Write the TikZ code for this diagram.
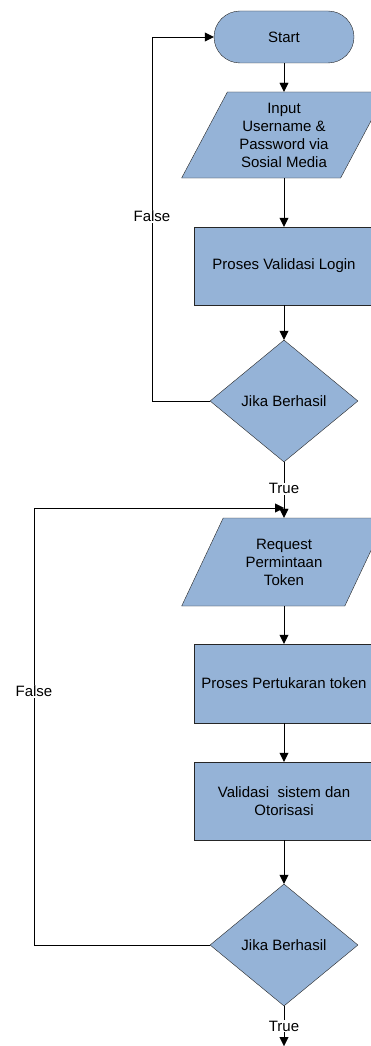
\documentclass[tikz,border=0pt]{standalone}
\usepackage{fontspec}
\setmainfont{Liberation Sans}
\usetikzlibrary{positioning}
\usetikzlibrary{shapes.geometric}
\usetikzlibrary{arrows.meta}
\definecolor{boxblue}{HTML}{95B3D7}
\tikzset{
  base/.style={draw=black!85, fill=boxblue, align=center, inner sep=1pt,
    font=\fontsize{15}{18}\selectfont},
  terminal/.style={base, rounded corners=26pt, minimum width=140pt, minimum height=52pt},
  inputbox/.style={base, trapezium, trapezium left angle=61, trapezium right angle=119,
    trapezium stretches=true, minimum width=205pt},
  procbox/.style={base, minimum width=180pt, minimum height=78pt},
  decision/.style={base, diamond, aspect=1.21, minimum width=148pt, minimum height=122pt},
  flow/.style={draw=black, -{Triangle[length=9pt,width=9pt]}},
  lbl/.style={fill=white, inner sep=1pt, font=\fontsize{15}{18}\selectfont}
}
\begin{document}
\begin{tikzpicture}[x=1pt, y=1pt]
  \useasboundingbox (0,0) rectangle (371,-1046);
  \node [terminal] (start) at (284,-37) {Start};
  \node [inputbox, minimum height=86pt] (input) at (284,-135)
    {Input\\Username \&\\Password via\\Sosial Media};
  \node [procbox] (login) at (284,-266) {Proses Validasi Login};
  \node [decision] (cek1) at (284,-401) {Jika Berhasil};
  \node [inputbox, minimum height=88pt] (request) at (284,-562)
    {Request\\Permintaan\\Token};
  \node [procbox, minimum height=79pt] (tukar) at (284,-683.5) {Proses Pertukaran token};
  \node [procbox] (otor) at (284,-801) {Validasi\ \ sistem dan\\Otorisasi};
  \node [decision] (cek2) at (284,-945) {Jika Berhasil};
  \coordinate (masuk) at (284,-508);
  \coordinate (akhir) at (284,-1046);

  \draw [flow] (start.south) -- (start.south |- input.north);
  \draw [flow] (login.north |- input.south) -- (login.north);
  \draw [flow] (login.south) -- (cek1.north);
  \draw [flow] (cek1.south) -- node [lbl, pos=0.48] {True} (cek1.south |- request.north);
  \draw [flow] (tukar.north |- request.south) -- (tukar.north);
  \draw [flow] (tukar.south) -- (otor.north);
  \draw [flow] (otor.south) -- (cek2.north);
  \draw [flow] (cek2.south) -- node [lbl, pos=0.5] {True} (akhir);

  % loops back
  \draw [flow] (cek1.west) -| node [lbl, pos=0.754] {False} (152,-37) -- (start.west);
  \draw [flow] (cek2.west) -| node [lbl, pos=0.79] {False} (34,-508) -- (masuk);
\end{tikzpicture}
\end{document}
